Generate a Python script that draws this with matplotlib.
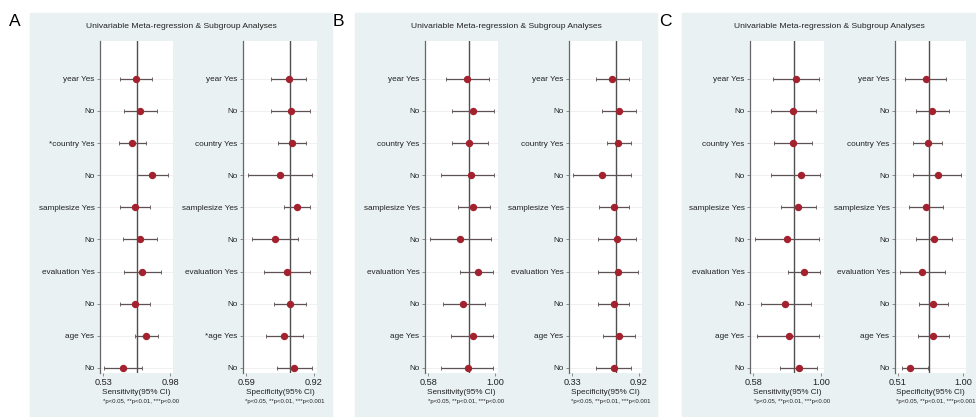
import matplotlib.pyplot as plt
from matplotlib.patches import Rectangle

plt.rcParams['font.family'] = ['Liberation Sans', 'DejaVu Sans']

# row labels, top to bottom
rows = ["year Yes", "No", "country Yes", "No", "samplesize Yes", "No",
        "evaluation Yes", "No", "age Yes", "No"]

# panel A
a_sens_est = [0.750, 0.779, 0.727, 0.862, 0.745, 0.777, 0.792, 0.745, 0.819, 0.665]
a_sens_lo = [0.644, 0.669, 0.637, 0.756, 0.644, 0.662, 0.671, 0.644, 0.745, 0.537]
a_sens_hi = [0.856, 0.892, 0.816, 0.964, 0.848, 0.895, 0.920, 0.845, 0.900, 0.794]
a_spec_est = [0.798, 0.807, 0.812, 0.755, 0.836, 0.731, 0.789, 0.805, 0.776, 0.825]
a_spec_lo = [0.711, 0.711, 0.745, 0.601, 0.775, 0.621, 0.679, 0.728, 0.689, 0.741]
a_spec_hi = [0.883, 0.901, 0.879, 0.912, 0.899, 0.842, 0.902, 0.883, 0.867, 0.909]

# panel B
b_sens_est = [0.827, 0.859, 0.838, 0.850, 0.865, 0.783, 0.892, 0.802, 0.859, 0.829]
b_sens_lo = [0.690, 0.730, 0.728, 0.661, 0.765, 0.593, 0.781, 0.671, 0.724, 0.659]
b_sens_hi = [0.961, 0.992, 0.957, 0.992, 0.967, 0.977, 0.989, 0.939, 0.989, 0.989]
b_spec_est = [0.680, 0.745, 0.739, 0.593, 0.700, 0.727, 0.736, 0.698, 0.748, 0.698]
b_spec_lo = [0.538, 0.597, 0.636, 0.339, 0.567, 0.562, 0.562, 0.562, 0.605, 0.541]
b_spec_hi = [0.834, 0.893, 0.846, 0.846, 0.834, 0.896, 0.908, 0.828, 0.888, 0.852]

# panel C
c_sens_est = [0.847, 0.829, 0.825, 0.877, 0.861, 0.790, 0.898, 0.779, 0.801, 0.867]
c_sens_lo = [0.705, 0.694, 0.710, 0.688, 0.751, 0.595, 0.799, 0.630, 0.607, 0.749]
c_sens_hi = [0.987, 0.967, 0.944, 0.994, 0.971, 0.987, 0.994, 0.936, 0.989, 0.978]
c_spec_est = [0.721, 0.767, 0.733, 0.808, 0.721, 0.779, 0.692, 0.775, 0.775, 0.602]
c_spec_lo = [0.565, 0.646, 0.626, 0.622, 0.593, 0.644, 0.524, 0.666, 0.660, 0.541]
c_spec_hi = [0.872, 0.893, 0.840, 0.986, 0.852, 0.920, 0.867, 0.888, 0.896, 0.738]

# pooled reference lines (sensitivity, specificity)
refs = [(0.760, 0.802), (0.838, 0.715), (0.836, 0.747)]
# axis end ticks
ranges = [((0.53, 0.98), (0.59, 0.92)), ((0.58, 1.00), (0.33, 0.92)),
          ((0.58, 1.00), (0.51, 1.00))]
# rows flagged with a star: (sensitivity rows, specificity rows)
stars = [([2], [8]), ([], []), ([], [])]

panels = [
    ("A", (a_sens_est, a_sens_lo, a_sens_hi), (a_spec_est, a_spec_lo, a_spec_hi)),
    ("B", (b_sens_est, b_sens_lo, b_sens_hi), (b_spec_est, b_spec_lo, b_spec_hi)),
    ("C", (c_sens_est, c_sens_lo, c_sens_hi), (c_spec_est, c_spec_lo, c_spec_hi)),
]

W, H = 976, 417
fig = plt.figure(figsize=(W / 100, H / 100), dpi=100)
fig.patch.set_facecolor("white")

bg_x = [(30, 332), (355, 657), (682, 976)]
ax_x = [((100, 173), (243, 317)), ((425, 498), (569, 642)), ((750, 824), (895, 966))]
letter_x = [15, 338, 665]
ax_top, ax_bot = 41, 373
pad = 0.045  # plot region margin beyond the end ticks

bg_col = "#e9f1f3"
pt_col = "#a3222f"
ci_col = "#5e5254"
txt_col = "#222222"

for p, (letter, sens, spec) in enumerate(panels):
    x0, x1 = bg_x[p]
    fig.patches.append(Rectangle((x0 / W, 0), (x1 - x0) / W, 1 - 13 / H,
                                 transform=fig.transFigure, color=bg_col, zorder=-5))
    fig.text(letter_x[p] / W, 1 - 21 / H, letter, fontsize=12.5,
             ha="center", va="center")
    fig.text((x0 + x1) / 2 / W, 1 - 27 / H,
             "Univariable Meta-regression & Subgroup Analyses",
             fontsize=6.1, ha="center", va="center", color=txt_col)

    for k, (data, name) in enumerate([(sens, "Sensitivity(95% CI)"),
                                       (spec, "Specificity(95% CI)")]):
        est, lo, hi = data
        l, r = ax_x[p][k]
        ax = fig.add_axes([l / W, 1 - ax_bot / H, (r - l) / W, (ax_bot - ax_top) / H])
        n = len(rows)
        ypos = [n - 1 - i for i in range(n)]
        for y in ypos:
            ax.axhline(y, color="#eeeeee", lw=0.6, zorder=0)
        ax.axvline(refs[p][k], color="#505050", lw=1.0, zorder=1)
        xerr = [[e - a for e, a in zip(est, lo)], [b - e for e, b in zip(est, hi)]]
        ax.errorbar(est, ypos, xerr=xerr, fmt="o", color=pt_col, ms=4.3,
                    ecolor=ci_col, elinewidth=0.9, capsize=1.5, capthick=0.6, zorder=3)
        labels = [("*" + s if i in stars[p][k] else s) for i, s in enumerate(rows)]
        ax.set_yticks(ypos)
        ax.set_yticklabels(labels, fontsize=5.9)
        ax.set_ylim(-0.16, n - 1 + 1.18)
        a, b = ranges[p][k]
        m = pad * (b - a)
        ax.set_xlim(a - m, b + m)
        ax.set_xticks([a, b])
        ax.set_xticklabels(["%.2f" % v for v in (a, b)], fontsize=6.6)
        ax.set_xlabel(name, fontsize=5.9, labelpad=1.5, color=txt_col)
        for s in ["top", "right", "bottom"]:
            ax.spines[s].set_visible(False)
        ax.spines["left"].set_color("#666666")
        ax.spines["left"].set_linewidth(0.9)
        ax.tick_params(axis="y", length=2.5, width=0.5, pad=1.5, colors="#666666",
                       labelcolor=txt_col)
        ax.tick_params(axis="x", length=2.5, width=0.5, pad=1, colors="#666666",
                       labelcolor=txt_col)
        foot = "*p<0.05, **p<0.01, ***p<0.00" if k == 0 else "*p<0.05, **p<0.01, ***p<0.001"
        fig.text(((l + r) / 2 + 5) / W, 1 - 402 / H, foot, fontsize=4.3,
                 ha="center", va="center", color=txt_col)

fig.savefig("out.png", dpi=100)
